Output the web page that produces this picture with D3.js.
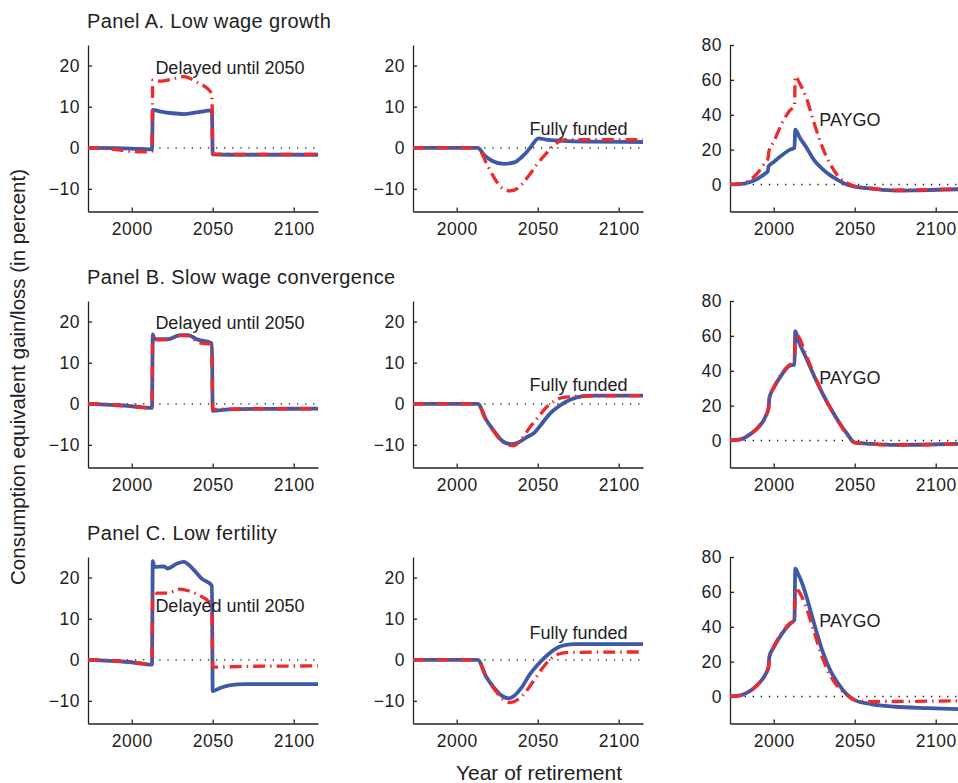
<!DOCTYPE html>
<html>
<head>
<meta charset="utf-8">
<script src="https://cdn.jsdelivr.net/npm/d3@7"></script>
<style>
    body { margin: 0; background: #fff; }
    svg { font-family: "Liberation Sans", Arial, Helvetica, sans-serif; }
    .axis path, .axis line { stroke: #222; stroke-width: 1.3; }
    .axis text { font-size: 17.5px; fill: #222; letter-spacing: 0.5px; }
</style>
</head>
<body>
<script>
const WIDTH = 958
const HEIGHT = 783

const panelTitles = ["Panel A. Low wage growth", "Panel B. Slow wage convergence", "Panel C. Low fertility"]
const columnLabels = ["Delayed until 2050", "Fully funded", "PAYGO"]
const xTicks = [2000, 2050, 2100]
const yTicksSmall = [-10, 0, 10, 20]
const yTicksLarge = [0, 20, 40, 60, 80]

// where the labels sit, [year, value] per row
const labelAt = [
    [[2014.6, 18], [2044.9, 3.2], [2028.1, 33.4]],
    [[2014.6, 18.1], [2044.9, 3.2], [2028.1, 32.6]],
    [[2014.6, 11.6], [2044.9, 5.0], [2028.1, 40.1]]
]

// Panel A, low wage growth
const blueAL = [[1973,0],[1990,-0.1],[2000,-0.2],[2012.5,-0.4],[2013,9.2],[2018,8.8],[2025,8.4],[2032,8.2],[2040,8.6],[2049.5,9.1],[2050,-1.6],[2060,-1.7],[2080,-1.7],[2115,-1.7]]
const redAL = [[1973,0],[1985,-0.2],[1995,-0.7],[2005,-1.0],[2012.5,-0.9],[2013,16.5],[2018,16.2],[2024,16.6],[2032,17.3],[2040,16],[2049.5,13.2],[2050,-1.5],[2070,-1.6],[2115,-1.6]]
const blueAM = [[1973,0],[2013,0],[2017,-1.8],[2022,-3.2],[2029,-3.9],[2036,-3.5],[2040,-2.3],[2045,-0.2],[2050.5,2.3],[2055,2.0],[2065,1.7],[2080,1.5],[2115,1.4]]
const redAM = [[1973,0],[2013,0],[2018,-3.5],[2023,-7.2],[2028,-9.8],[2033,-10.5],[2038,-9.8],[2042,-8],[2046,-6],[2050,-3.8],[2055,-1.5],[2060,0.6],[2064,1.7],[2068,2.0],[2080,2.0],[2115,2.0]]
const blueAR = [[1973,0],[1980,0.3],[1985,1.3],[1990,3.3],[1995,6.5],[1996.3,7.5],[1996.8,10.4],[2000,12.9],[2005,16.7],[2010,20],[2012.8,20.9],[2013.3,31.5],[2016,27],[2020,21.5],[2025,13.8],[2030,9],[2035,5.2],[2040,2.3],[2045,0],[2050,-1.2],[2060,-2.3],[2075,-3.5],[2090,-3.3],[2115,-2.7]]
const redAR = [[1973,0],[1980,0.5],[1985,2.5],[1990,6.5],[1995,13],[1996.5,15],[1997,19],[2000,24.5],[2005,35],[2010,42.5],[2012.8,45],[2013.3,62],[2016,58],[2020,50],[2025,35],[2030,21.5],[2035,11.5],[2040,4.5],[2045,1],[2050,-1],[2060,-2.3],[2075,-3.2],[2095,-3],[2115,-2.5]]

// Panel B, slow wage convergence
const blueBL = [[1973,0],[1990,-0.3],[2000,-0.6],[2012.5,-1.0],[2013,16.9],[2014,15.7],[2022,15.7],[2030,16.7],[2035,16.7],[2040,15.7],[2049.5,14.7],[2050,-1.7],[2060,-1.35],[2080,-1.25],[2115,-1.2]]
const redBL = [[1973,0],[1990,-0.3],[2000,-0.7],[2012.5,-1.0],[2013,16.5],[2014,15.6],[2022,15.6],[2030,16.6],[2035,16.5],[2042,14.8],[2049.5,14.5],[2050,-1.4],[2060,-1.3],[2115,-1.2]]
const blueBM = [[1973,0],[2013,0],[2018,-3.8],[2023,-6.6],[2028,-9],[2033,-9.8],[2038,-9.4],[2043,-8.2],[2048,-7],[2053,-4.6],[2058,-2.2],[2063,-0.6],[2070,1.0],[2078,1.85],[2085,2.0],[2115,2.0]]
const redBM = [[1973,0],[2013,0],[2018,-3.8],[2023,-6.8],[2028,-9.2],[2035,-10.2],[2040,-8.6],[2045,-5.8],[2050,-3.4],[2055,-1],[2060,0.6],[2065,1.5],[2075,1.85],[2115,2.0]]
const blueBR = [[1973,0],[1980,0.8],[1985,3.3],[1990,7.1],[1995,13.8],[1996.8,18.6],[1997.3,24.4],[2000,30.1],[2005,37.8],[2010,43],[2012.8,43.5],[2013.3,62.7],[2015,57.9],[2020,47.4],[2025,36.8],[2030,27.2],[2035,18.6],[2040,10.9],[2045,4.2],[2050,-1.2],[2060,-1.9],[2075,-2.5],[2095,-2.3],[2115,-1.9]]
const redBR = [[1973,0],[1980,0.8],[1985,3.3],[1990,7.1],[1995,13.8],[1996.8,18.6],[1997.3,24.4],[2000,30.5],[2005,38.5],[2010,43.5],[2012.8,44.5],[2013.3,61],[2015,60],[2020,49],[2025,37.5],[2030,27.5],[2035,18.5],[2040,10.5],[2045,3.8],[2050,-1.2],[2060,-2],[2075,-2.6],[2095,-2.4],[2115,-2]]

// Panel C, low fertility
const blueCL = [[1973,0],[1990,-0.3],[2000,-0.6],[2012.5,-1.2],[2013,24],[2014,22.6],[2020,22.7],[2022,22.2],[2028,23.4],[2032,23.8],[2038,22],[2043,19.8],[2049.5,18],[2050,-7.6],[2055,-6.8],[2060,-6.2],[2070,-5.9],[2115,-5.9]]
const redCL = [[1973,0],[1990,-0.3],[2000,-0.6],[2012.5,-1.1],[2013,16.8],[2015,16.2],[2022,16.2],[2030,17.2],[2035,16.8],[2040,16],[2049.5,13.2],[2050,-1.8],[2070,-1.6],[2115,-1.5]]
const blueCM = [[1973,0],[2013,0],[2018,-4],[2023,-6.8],[2028,-8.8],[2032,-9.4],[2036,-8.6],[2040,-6.8],[2045,-3.6],[2050,-1.2],[2055,0.8],[2060,2.4],[2065,3.4],[2072,3.8],[2115,3.8]]
const redCM = [[1973,0],[2013,0],[2018,-4],[2023,-7],[2028,-9.4],[2033,-10.4],[2038,-9.6],[2043,-7.6],[2048,-4.8],[2053,-2],[2058,0.2],[2063,1.4],[2070,1.8],[2115,1.9]]
const blueCR = [[1973,0],[1980,0.8],[1985,2.9],[1990,6.7],[1995,12.9],[1996.8,17],[1997.3,22.8],[2000,28.2],[2005,35.9],[2010,41.6],[2012.8,43.9],[2013.3,73.3],[2015,70.4],[2018,63.7],[2020,57.9],[2025,41.6],[2030,26.3],[2035,14.8],[2040,7.1],[2045,1.3],[2050,-2.1],[2060,-4.4],[2075,-5.9],[2095,-6.7],[2115,-7.3]]
const redCR = [[1973,0],[1980,0.8],[1985,2.9],[1990,6.7],[1995,12.9],[1996.8,17],[1997.3,22.8],[2000,28.5],[2005,36.5],[2010,42],[2012.8,44],[2013.3,61.8],[2015,60.8],[2020,51.2],[2025,36.8],[2030,22.4],[2035,11.9],[2040,5.2],[2045,1],[2050,-2.1],[2060,-2.9],[2115,-2.5]]

const BLUE = "#3d5aa8"
const RED = "#ee2a2a"

const COLS = [88, 413, 730]
const ROWS = [45, 301, 557]
const PW = 230
const PH = 166.5

const grid = [
    [[blueAL, redAL], [blueAM, redAM], [blueAR, redAR]],
    [[blueBL, redBL], [blueBM, redBM], [blueBR, redBR]],
    [[blueCL, redCL], [blueCM, redCM], [blueCR, redCR]]
]

const svg = d3.select("body")
    .append("svg")
    .attr("width", WIDTH)
    .attr("height", HEIGHT)

const fmt = d => d < 0 ? "\u2212" + Math.abs(d) : String(d)

grid.forEach((row, r) => {
    svg.append("text")
        .attr("x", 87)
        .attr("y", ROWS[r] - 17)
        .style("font-size", "20px")
        .style("letter-spacing", "0.35px")
        .style("fill", "#222")
        .text(panelTitles[r])

    row.forEach((series, c) => {
        const g = svg.append("g")
            .attr("transform", "translate(" + COLS[c] + "," + ROWS[r] + ")")

        const xScale = d3.scaleLinear()
            .domain([1973, 2115])
            .range([0, PW])

        const yScale = d3.scaleLinear()
            .domain(c === 2 ? [-15.5, 80] : [-15.5, 25])
            .range([PH, 0])

        // dotted zero line
        g.append("line")
            .attr("x1", xScale(1977))
            .attr("x2", xScale(2115))
            .attr("y1", yScale(0))
            .attr("y2", yScale(0))
            .attr("stroke", "#111")
            .attr("stroke-width", 1.3)
            .attr("stroke-dasharray", "1.3,6.8")

        g.append("g")
            .attr("class", "axis")
            .attr("transform", "translate(0," + PH + ")")
            .call(d3.axisBottom(xScale)
                .tickValues(xTicks)
                .tickFormat(d3.format("d"))
                .tickSizeInner(-4)
                .tickSizeOuter(0)
                .tickPadding(11))
            .call(a => a.selectAll("text").attr("dy", "0.71em"))

        g.append("g")
            .attr("class", "axis")
            .call(d3.axisLeft(yScale)
                .tickValues(c === 2 ? yTicksLarge : yTicksSmall)
                .tickFormat(fmt)
                .tickSizeInner(-4)
                .tickSizeOuter(0)
                .tickPadding(8))

        const line = d3.line()
            .x(d => xScale(d[0]))
            .y(d => yScale(d[1]))
            .curve(d3.curveMonotoneX)

        g.append("path")
            .datum(series[0])
            .attr("d", line)
            .attr("fill", "none")
            .attr("stroke", BLUE)
            .attr("stroke-width", 3.8)
            .attr("stroke-linejoin", "round")

        g.append("path")
            .datum(series[1])
            .attr("d", line)
            .attr("fill", "none")
            .attr("stroke", RED)
            .attr("stroke-width", 3.3)
            .attr("stroke-dasharray", "12,5,1.5,5")

        const lab = labelAt[r][c]
        g.append("text")
            .attr("x", xScale(lab[0]))
            .attr("y", yScale(lab[1]))
            .style("font-size", "18px")
            .style("fill", "#222")
            .text(columnLabels[c])
    })
})

svg.append("text")
    .attr("transform", "translate(25, 377) rotate(-90)")
    .attr("text-anchor", "middle")
    .style("font-size", "20.5px")
    .style("fill", "#222")
    .text("Consumption equivalent gain/loss (in percent)")

svg.append("text")
    .attr("x", 539)
    .attr("y", 780)
    .attr("text-anchor", "middle")
    .style("font-size", "21px")
    .style("fill", "#222")
    .text("Year of retirement")
</script>
</body>
</html>
